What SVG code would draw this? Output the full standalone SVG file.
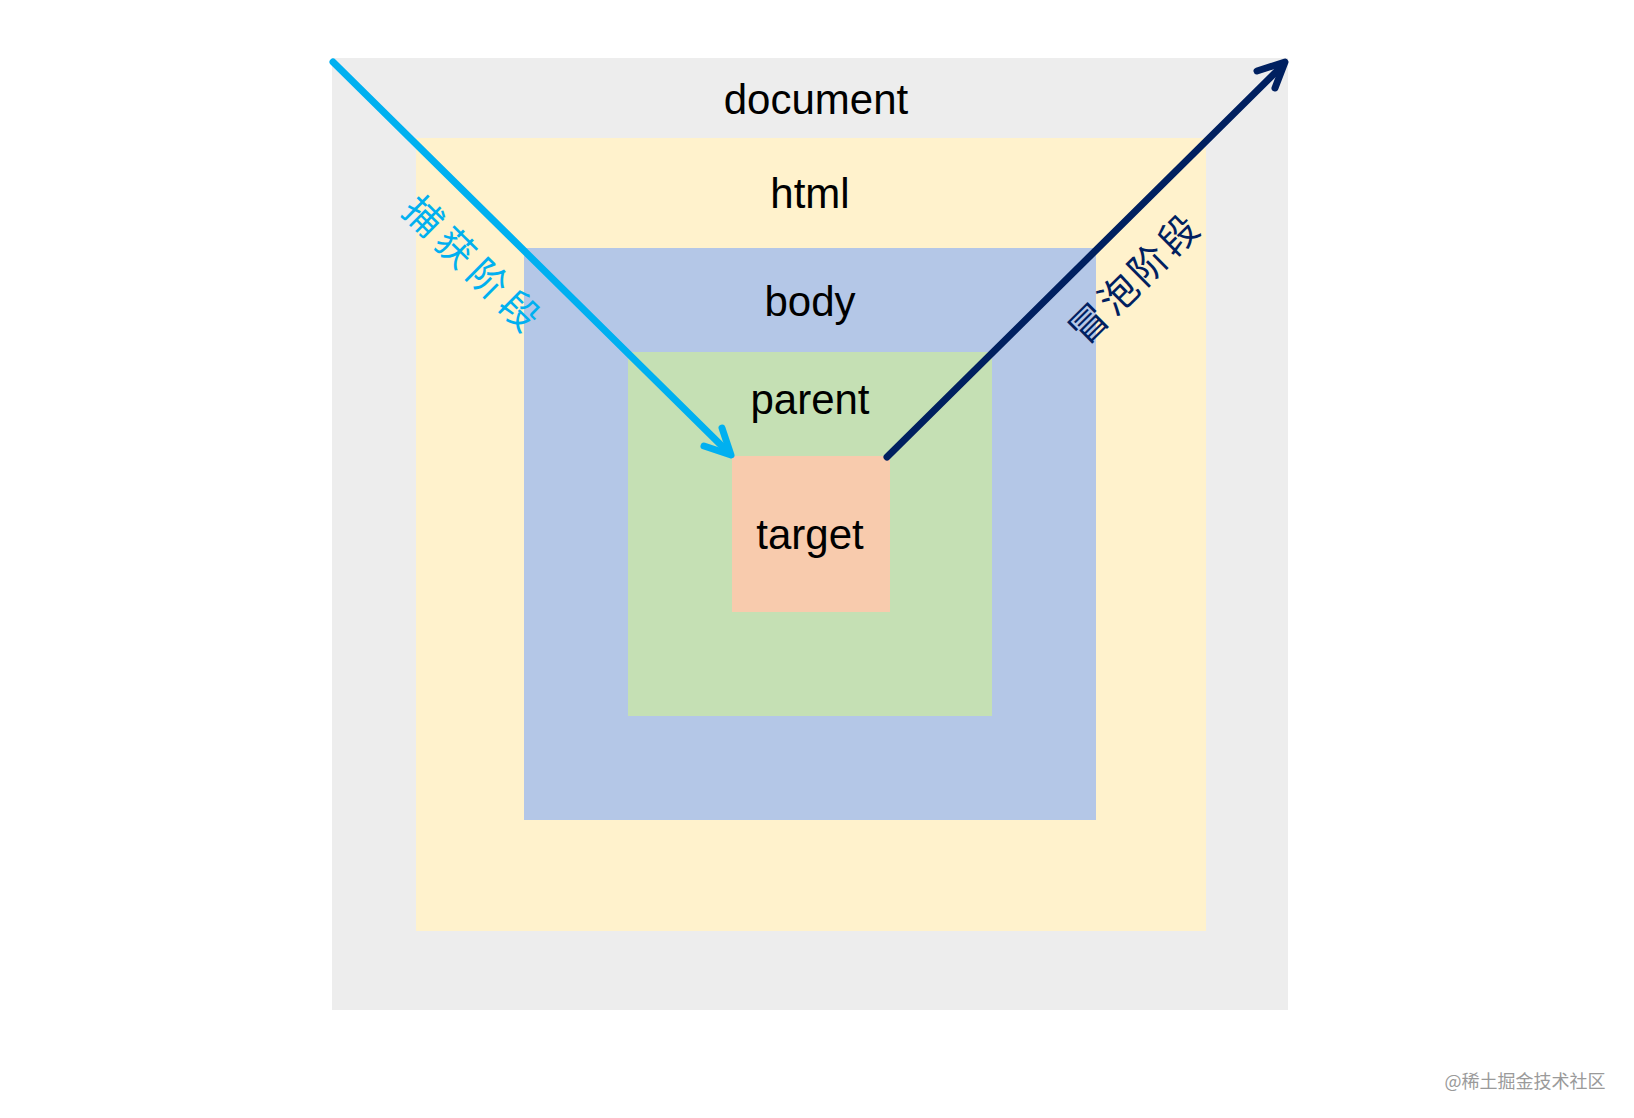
<svg xmlns="http://www.w3.org/2000/svg" width="1634" height="1118" viewBox="0 0 1634 1118">
<style>
.lbl{font-family:"Liberation Sans",Arial,Helvetica,sans-serif;font-size:42px;fill:#000;text-anchor:middle}
.cjk{font-family:"Noto Sans CJK SC",sans-serif;font-size:38px;text-anchor:middle;dominant-baseline:central}
.ln{fill:none;stroke-width:7;stroke-linecap:round;stroke-linejoin:round}
</style>
<rect x="0" y="0" width="1634" height="1118" fill="#ffffff"/>
<g id="document"><rect x="332" y="58" width="956" height="952" fill="#ededed"/><text class="lbl" x="816" y="114">document</text></g>
<g id="html"><rect x="416" y="138" width="790" height="793" fill="#fff2cc"/><text class="lbl" x="810" y="208">html</text></g>
<g id="body"><rect x="524" y="248" width="572" height="572" fill="#b4c7e7"/><text class="lbl" x="810" y="316">body</text></g>
<g id="parent"><rect x="628" y="352" width="364" height="364" fill="#c5e0b4"/><text class="lbl" x="810" y="414">parent</text></g>
<g id="target"><rect x="732" y="456" width="158" height="156" fill="#f8cbad"/><text class="lbl" x="810" y="549">target</text></g>
<g id="connectors">
<g id="capture">
<line class="ln" x1="333" y1="62" x2="728" y2="452" stroke="#00b0f0"/>
<polyline class="ln" points="722,428 731,455 704,446" stroke="#00b0f0"/>
<text class="cjk" fill="#00b0f0" transform="translate(476,264) rotate(44.6)" letter-spacing="7">捕获阶段</text>
</g>
<g id="bubble">
<line class="ln" x1="887" y1="457" x2="1282" y2="66" stroke="#002060"/>
<polyline class="ln" points="1257,71 1285,62 1275,88" stroke="#002060"/>
<text class="cjk" fill="#002060" transform="translate(1133,276) rotate(-44.7)" letter-spacing="4">冒泡阶段</text>
</g>
</g>
<text x="1525" y="1088" font-family="'Noto Sans CJK SC',sans-serif" font-size="18" fill="#9a9a9a" text-anchor="middle">@稀土掘金技术社区</text>
</svg>
